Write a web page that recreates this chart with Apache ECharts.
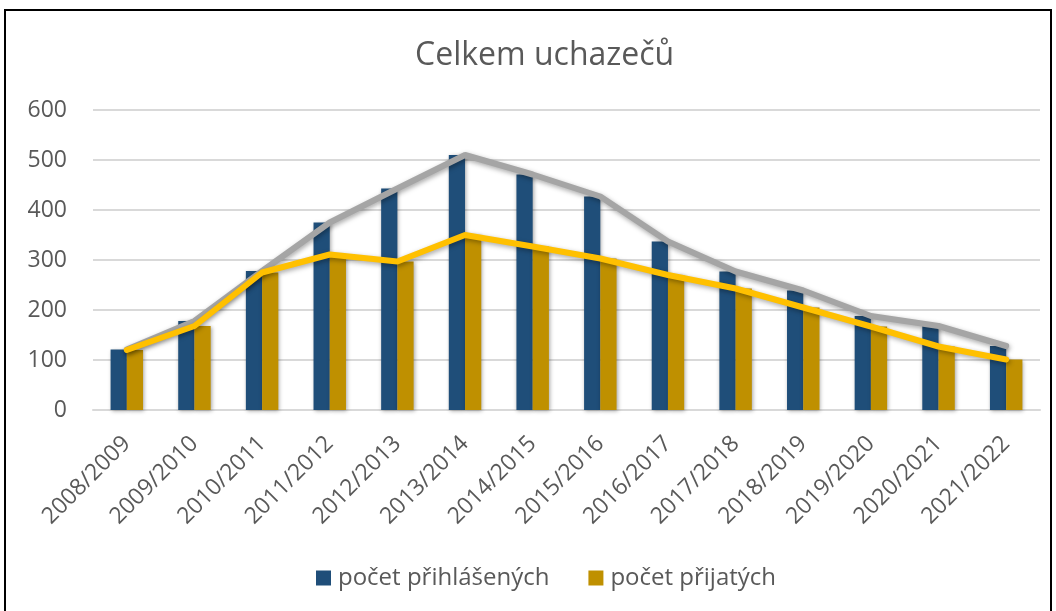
<!DOCTYPE html>
<html>
<head>
<meta charset="utf-8">
<script src="https://cdn.jsdelivr.net/npm/echarts@6/dist/echarts.min.js"></script>
<style>
    html, body { margin: 0; padding: 0; background: #fff; }
    #chart { width: 1056px; height: 611px; }
</style>
</head>
<body>
<div id="chart"></div>
<script>
// školní roky
const categories = ['2008/2009', '2009/2010', '2010/2011', '2011/2012', '2012/2013', '2013/2014', '2014/2015',
    '2015/2016', '2016/2017', '2017/2018', '2018/2019', '2019/2020', '2020/2021', '2021/2022'];
// počet přihlášených
const prihlaseni = [121, 178, 278, 375, 443, 510, 471, 427, 337, 277, 239, 188, 168, 128];
// počet přijatých
const prijati = [120, 168, 275, 311, 297, 350, 327, 303, 270, 243, 205, 167, 127, 101];
const yTicks = [0, 100, 200, 300, 400, 500, 600];

const textColor = '#595959';
const font = '"Open Sans", "Noto Sans", sans-serif';

var chart = echarts.init(document.getElementById('chart'));

var option = {
    animation: false,
    title: {
        text: 'Celkem uchazečů',
        left: 410,
        top: 35,
        textStyle: { fontFamily: font, fontSize: 32, fontWeight: 'normal', color: textColor }
    },
    graphic: [{
        type: 'rect',
        shape: { x: 5, y: 10, width: 1046, height: 640 },
        style: { fill: 'none', stroke: '#000', lineWidth: 2 },
        silent: true
    }],
    legend: {
        data: ['počet přihlášených', 'počet přijatých'],
        bottom: 16,
        left: 311,
        itemWidth: 15,
        itemHeight: 15,
        itemGap: 39,
        icon: 'rect',
        textStyle: { fontFamily: font, fontSize: 24, color: textColor, padding: [0, 0, 0, 2] }
    },
    grid: { left: 93, right: 16, top: 110, bottom: 201 },
    xAxis: {
        type: 'category',
        data: categories,
        axisTick: { show: false },
        axisLine: { lineStyle: { color: '#d9d9d9', width: 2 } },
        axisLabel: { rotate: 45, fontFamily: font, fontSize: 23, color: textColor, margin: 30 }
    },
    yAxis: {
        type: 'value',
        min: yTicks[0],
        max: yTicks[yTicks.length - 1],
        interval: 100,
        axisLine: { show: false },
        axisTick: { show: false },
        splitLine: { lineStyle: { color: '#d9d9d9', width: 2 } },
        axisLabel: { fontFamily: font, fontSize: 23, color: textColor, margin: 26 }
    },
    series: [
        {
            name: 'počet přihlášených',
            type: 'bar',
            data: prihlaseni,
            barWidth: '24%',
            barGap: '0%',
            itemStyle: { color: '#1F4E79', shadowColor: 'rgba(0,0,0,0.35)', shadowBlur: 4, shadowOffsetX: 1, shadowOffsetY: 1 }
        },
        {
            name: 'počet přijatých',
            type: 'bar',
            data: prijati,
            barWidth: '24%',
            barGap: '0%',
            itemStyle: { color: '#BF9000', shadowColor: 'rgba(0,0,0,0.35)', shadowBlur: 4, shadowOffsetX: 1, shadowOffsetY: 1 }
        },
        {
            name: 'přihlášení trend',
            type: 'line',
            data: prihlaseni,
            symbol: 'none',
            z: 5,
            lineStyle: { color: '#A5A5A5', width: 6, cap: 'round', shadowColor: 'rgba(0,0,0,0.35)', shadowBlur: 5, shadowOffsetX: 1, shadowOffsetY: 2 }
        },
        {
            name: 'přijatí trend',
            type: 'line',
            data: prijati,
            symbol: 'none',
            z: 6,
            lineStyle: { color: '#FFC000', width: 6, cap: 'round', shadowColor: 'rgba(0,0,0,0.35)', shadowBlur: 5, shadowOffsetX: 1, shadowOffsetY: 2 }
        }
    ]
};

chart.setOption(option);
</script>
</body>
</html>
